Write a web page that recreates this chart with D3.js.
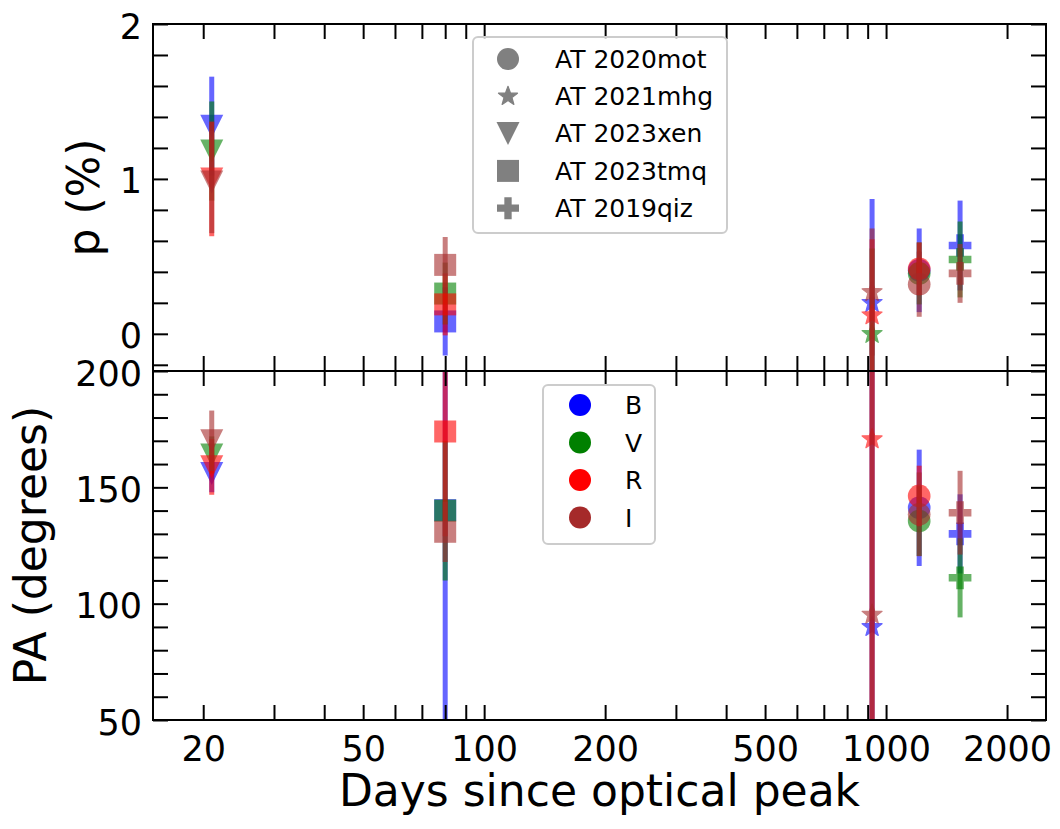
<!DOCTYPE html>
<html><head><meta charset="utf-8">
<script src="https://cdn.jsdelivr.net/npm/d3@7"></script>
<style>body{margin:0;background:#fff} text{font-family:"DejaVu Sans",sans-serif}</style>
</head><body><svg id="c" width="1060" height="829"></svg>
<script>
// ---------------- data ----------------
const objects = ["AT 2020mot", "AT 2021mhg", "AT 2023xen", "AT 2023tmq", "AT 2019qiz"];
const markerTypes = ["circle", "star", "triangle", "square", "plus"];
const days = [1209, 923, 21, 80, 1528];
const bands = ["B", "V", "R", "I"];
const bandColors = ["blue", "green", "red", "brown"];
// polarisation degree p (%) per object, per band [B, V, R, I]
const pValues = [
  [0.41, 0.39, 0.42, 0.32],
  [0.20, 0.00, 0.12, 0.27],
  [1.34, 1.18, 1.00, 0.98],
  [0.08, 0.26, 0.19, 0.445],
  [0.57, 0.48, null, 0.39]
];
const pErrors = [
  [0.27, 0.20, 0.17, 0.21],
  [0.67, 0.55, 0.49, 0.41],
  [0.32, 0.32, 0.37, 0.33],
  [0.22, 0.20, 0.20, 0.18],
  [0.29, 0.245, null, 0.19]
];
// polarisation angle PA (degrees)
const paValues = [
  [141.2, 135.5, 146.3, 138.4],
  [90.0, null, 170.7, 95.3],
  [155.9, 163.9, 158.8, 170.0],
  [140.2, 140.0, 174.0, 130.9],
  [130.0, 111.1, null, 139.1]
];
const paErrors = [
  [25, 15, 13, 18],
  [150, null, 150, 150],
  [8, 8, 12, 13],
  [120, 30, 45, 13],
  [17, 17, null, 18]
];
const dayTickLabels = [20, 50, 100, 200, 500, 1000, 2000];
const pTickLabels = [0, 1, 2];
const pMinorStep = 0.2;
const paTickLabels = [50, 100, 150, 200];
const paMinorStep = 10;
const xDomain = [15, 2500];
const pDomain = [-0.24, 2];
const paDomain = [50, 200];

// ---------------- layout ----------------
const L = 153, R = 1046, T1 = 24, B1 = 371, T2 = 371, B2 = 720;
const FS = 35, LABELFS = 44, LEGFS = 25, TICK = 15;
const svg = d3.select("#c");

const x = d3.scaleLog().domain(xDomain).range([L, R]);
const yP = d3.scaleLinear().domain(pDomain).range([B1, T1]);
const yA = d3.scaleLinear().domain(paDomain).range([B2, T2]);

const xTicksAll = x.ticks().filter(d => d >= xDomain[0] && d <= xDomain[1]);
function stepTicks(lo, hi, step) {
  const out = [];
  for (let v = Math.ceil(lo / step - 1e-9) * step; v <= hi + 1e-9; v += step) out.push(+v.toFixed(6));
  return out;
}
const pTicksAll = stepTicks(pDomain[0], pDomain[1], pMinorStep);
const paTicksAll = stepTicks(paDomain[0], paDomain[1], paMinorStep);

// clip paths
const defs = svg.append("defs");
defs.append("clipPath").attr("id", "clipTop").append("rect").attr("x", L).attr("y", T1).attr("width", R - L).attr("height", B1 - T1);
defs.append("clipPath").attr("id", "clipBot").append("rect").attr("x", L).attr("y", T2).attr("width", R - L).attr("height", B2 - T2);

// marker paths
function markerPath(type, s) {
  if (type === "circle") { const r = s / 2; return `M${r},0A${r},${r} 0 1,1 ${-r},0A${r},${r} 0 1,1 ${r},0Z`; }
  if (type === "square") { const h = s / 2; return `M${-h},${-h}H${h}V${h}H${-h}Z`; }
  if (type === "triangle") { const h = s / 2; return `M${-h},${-h}L${h},${-h}L0,${h}Z`; }
  if (type === "plus") {
    const a = s / 2, b = s / 6;
    return `M${-b},${-a}H${b}V${-b}H${a}V${b}H${b}V${a}H${-b}V${b}H${-a}V${-b}H${-b}Z`;
  }
  if (type === "star") {
    const Ro = s / 2, Ri = Ro * 0.42; let p = "";
    for (let i = 0; i < 10; i++) {
      const r = i % 2 ? Ri : Ro, ang = -Math.PI / 2 + i * Math.PI / 5;
      p += (i ? "L" : "M") + (r * Math.cos(ang)).toFixed(2) + "," + (r * Math.sin(ang)).toFixed(2);
    }
    return p + "Z";
  }
}
const markerSize = { circle: 22.7, square: 22, triangle: 23, plus: 22.7, star: 21 };
const ALPHA = 0.6;

function drawPanel(y, vals, errs, clip) {
  const g = svg.append("g").attr("clip-path", `url(#${clip})`);
  objects.forEach((o, oi) => {
    bands.forEach((b, bi) => {
      const v = vals[oi][bi], e = errs[oi][bi];
      if (v == null) return;
      const cx = x(days[oi]);
      g.append("line").attr("x1", cx).attr("x2", cx)
        .attr("y1", y(v - e)).attr("y2", y(v + e))
        .attr("stroke", bandColors[bi]).attr("stroke-width", 5).attr("opacity", ALPHA);
      const mt = markerTypes[oi];
      g.append("path").attr("d", markerPath(mt, markerSize[mt]))
        .attr("transform", `translate(${cx},${y(v)})`)
        .attr("fill", bandColors[bi])
        .attr("stroke", mt === "star" ? bandColors[bi] : "none").attr("stroke-width", 1.2)
        .attr("stroke-linejoin", "round")
        .attr("opacity", ALPHA);
    });
  });
}
drawPanel(yP, pValues, pErrors, "clipTop");
drawPanel(yA, paValues, paErrors, "clipBot");

// axes
function styleAxis(g) {
  g.select(".domain").remove();
  g.selectAll(".tick line").attr("stroke", "#000").attr("stroke-width", 2);
  g.selectAll(".tick text").attr("font-size", FS).attr("fill", "#000").attr("font-family", "DejaVu Sans");
}
const noLab = () => "";
function panelAxes(y, ticksAll, labels, top, bottom, showX) {
  const fmtY = d => labels.some(l => Math.abs(l - d) < 1e-6) ? String(d) : "";
  const gl = svg.append("g").attr("transform", `translate(${L},0)`)
    .call(d3.axisLeft(y).tickValues(ticksAll).tickSizeInner(-TICK).tickSizeOuter(0).tickPadding(11).tickFormat(fmtY));
  styleAxis(gl); gl.selectAll(".tick text").attr("dy", "0.40em");
  const gr = svg.append("g").attr("transform", `translate(${R},0)`)
    .call(d3.axisRight(y).tickValues(ticksAll).tickSizeInner(-TICK).tickSizeOuter(0).tickFormat(noLab));
  styleAxis(gr);
  const gt = svg.append("g").attr("transform", `translate(0,${top})`)
    .call(d3.axisTop(x).tickValues(xTicksAll).tickSizeInner(-TICK).tickSizeOuter(0).tickFormat(noLab));
  styleAxis(gt);
  const fmtX = d => showX && dayTickLabels.includes(Math.round(d)) ? String(Math.round(d)) : "";
  const gb = svg.append("g").attr("transform", `translate(0,${bottom})`)
    .call(d3.axisBottom(x).tickValues(xTicksAll).tickSizeInner(-TICK).tickSizeOuter(0).tickPadding(16).tickFormat(fmtX));
  styleAxis(gb);
  svg.append("rect").attr("x", L).attr("y", top).attr("width", R - L).attr("height", bottom - top)
    .attr("fill", "none").attr("stroke", "#000").attr("stroke-width", 2);
}
panelAxes(yP, pTicksAll, pTickLabels, T1, B1, false);
panelAxes(yA, paTicksAll, paTickLabels, T2, B2, true);

// axis labels
svg.append("text").attr("transform", `translate(99,${(T1 + B1) / 2}) rotate(-90)`)
  .attr("text-anchor", "middle").attr("font-size", LABELFS).text("p (%)");
svg.append("text").attr("transform", `translate(46,${(T2 + B2) / 2}) rotate(-90)`)
  .attr("text-anchor", "middle").attr("font-size", LABELFS).text("PA (degrees)");
svg.append("text").attr("x", (L + R) / 2).attr("y", 806)
  .attr("text-anchor", "middle").attr("font-size", LABELFS).text("Days since optical peak");

// legend 1: objects / markers
const leg1 = svg.append("g");
leg1.append("rect").attr("x", 473).attr("y", 37).attr("width", 254).attr("height", 196).attr("rx", 5)
  .attr("fill", "#fff").attr("fill-opacity", 0.8).attr("stroke", "#cccccc").attr("stroke-width", 2);
const legMarkerSize = { circle: 22, star: 20, triangle: 23, square: 22, plus: 22 };
objects.forEach((o, i) => {
  const cy = 59 + i * 37.3;
  const mt = markerTypes[i];
  leg1.append("path").attr("d", markerPath(mt, legMarkerSize[mt]))
    .attr("transform", `translate(508,${cy})`).attr("fill", "#808080")
    .attr("stroke", mt === "star" ? "#808080" : "none").attr("stroke-width", 1.2).attr("stroke-linejoin", "round");
  leg1.append("text").attr("x", 555).attr("y", cy + 8.6).attr("font-size", LEGFS).text(o);
});
// legend 2: bands
const leg2 = svg.append("g");
leg2.append("rect").attr("x", 543).attr("y", 385).attr("width", 112).attr("height", 159).attr("rx", 5)
  .attr("fill", "#fff").attr("fill-opacity", 0.8).attr("stroke", "#cccccc").attr("stroke-width", 2);
bands.forEach((b, i) => {
  const cy = 405 + i * 37.5;
  leg2.append("circle").attr("cx", 580).attr("cy", cy).attr("r", 11).attr("fill", bandColors[i]);
  leg2.append("text").attr("x", 625).attr("y", cy + 9).attr("font-size", LEGFS).text(b);
});
</script></body></html>
